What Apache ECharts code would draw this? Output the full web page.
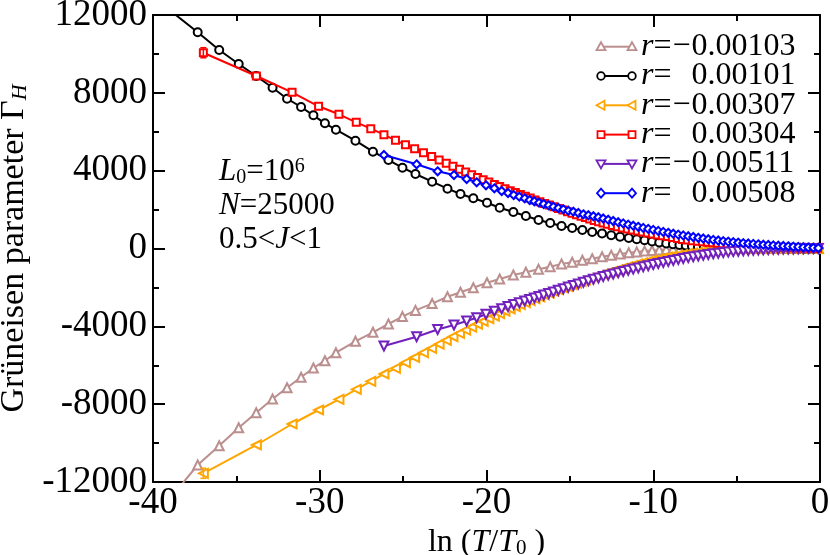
<!DOCTYPE html>
<html><head><meta charset="utf-8">
<script src="https://cdn.jsdelivr.net/npm/echarts@6/dist/echarts.min.js"></script>
<style>html,body{margin:0;padding:0;background:#fff}#c{width:830px;height:555px}</style>
</head><body><div id="c"></div>
<script>
// ---- x grids (ln(T/T0)) ----
const xA = [-37.32,-36.03,-34.86,-33.81,-32.83,-31.96,-31.12,-30.38,-29.69,-29.03,-27.86,-26.81,-25.88,-25.04,-24.26,-23.26,-22.34,-21.56,-20.79,-19.97,-19.21,-18.39,-17.64,-16.88,-16.18,-15.50,-14.86,-14.25,-13.66,-13.07,-12.52,-11.99,-11.47,-10.99,-10.52,-10.07,-9.64,-9.22,-8.82,-8.43,-8.05,-7.68,-7.32,-6.96,-6.61,-6.27,-5.94,-5.61,-5.28,-4.96,-4.65,-4.34,-4.03,-3.73,-3.43,-3.14,-2.85,-2.56,-2.28,-2.00,-1.72,-1.44,-1.17,-0.90,-0.63,-0.36,-0.09];
const yBrown = [-11126,-10134,-9209,-8438,-7734,-7153,-6619,-6141,-5766,-5355,-4769,-4306,-3880,-3500,-3180,-2830,-2480,-2251,-2014,-1757,-1567,-1361,-1223,-1069,-935,-796,-709,-607,-525,-422,-350,-283,-221,-175,-134,-103,-77,-57,-41,-30,-22,-16,-12,-9,-7,-5,-4,-3,-2,-2,-1,-1,-1,0,0,0,0,0,0,0,0,0,0,0,0,0,0];
const yBlack = [11111,10201,9482,8865,8264,7699,7272,6845,6434,6105,5540,4975,4548,4153,3829,3433,3074,2801,2580,2354,2097,1876,1670,1465,1311,1157,1054,951,849,771,679,607,540,478,422,360,309,263,221,180,149,118,93,72,57,45,36,28,22,17,13,10,8,6,4,3,2,1,1,0,0,0,0,0,0,0,0];
const brownLead = [-38.4, -12250];
const blackLead = [-39.0, 12250];

const xB = [-36.98,-33.80,-31.66,-30.07,-28.85,-27.81,-26.94,-26.15,-25.46,-24.86,-24.31,-23.78,-23.29,-22.84,-22.41,-22.01,-21.62,-21.25,-20.89,-20.54,-20.20,-19.86,-19.53,-19.21,-18.89,-18.58,-18.27,-17.97,-17.67,-17.38,-17.09,-16.80,-16.52,-16.24,-15.96,-15.69,-15.41,-15.14,-14.87,-14.60,-14.33,-14.07,-13.81,-13.54,-13.28,-13.01,-12.75,-12.45,-12.15,-11.85,-11.55,-11.25,-10.95,-10.65,-10.35,-10.05,-9.75,-9.45,-9.15,-8.85,-8.55,-8.25,-7.95,-7.65,-7.35,-7.05,-6.75,-6.45,-6.15,-5.85,-5.55,-5.25,-4.95,-4.65,-4.35,-4.05,-3.75,-3.45,-3.15,-2.85,-2.55,-2.25,-1.95,-1.65,-1.35,-1.05,-0.75,-0.45,-0.15];
const yOrange = [-11552,-10098,-9019,-8300,-7750,-7236,-6825,-6449,-6157,-5869,-5602,-5355,-5129,-4918,-4718,-4533,-4358,-4193,-4039,-3890,-3746,-3608,-3474,-3346,-3222,-3104,-2991,-2883,-2780,-2677,-2580,-2482,-2390,-2297,-2205,-2117,-2030,-1943,-1860,-1778,-1696,-1619,-1542,-1465,-1393,-1321,-1249,-1172,-1095,-1018,-946,-874,-807,-740,-673,-612,-555,-498,-447,-396,-349,-308,-267,-231,-195,-164,-134,-108,-87,-67,-51,-36,-21,-10,-8,-6,-5,-4,-3,-3,-2,-2,-1,-1,-1,0,0,0,0];
const yRed = [10062,8865,8027,7308,6897,6485,6157,5848,5560,5334,5129,4923,4728,4548,4378,4224,4075,3931,3787,3654,3531,3412,3294,3181,3073,2970,2873,2775,2683,2590,2498,2405,2318,2230,2143,2056,1973,1891,1814,1737,1660,1588,1516,1444,1372,1305,1244,1182,1120,1059,1002,946,894,843,791,745,699,653,612,560,509,468,432,401,370,344,319,293,267,247,226,206,185,164,149,134,118,103,87,77,67,57,46,36,31,26,21,15,10];

const xC = [-26.15,-24.19,-22.93,-21.95,-21.19,-20.59,-20.03,-19.53,-19.09,-18.71,-18.37,-18.03,-17.71,-17.41,-17.13,-16.85,-16.57,-16.27,-15.99,-15.69,-15.39,-15.09,-14.79,-14.49,-14.19,-13.89,-13.59,-13.29,-13.0,-12.7,-12.4,-12.1,-11.8,-11.5,-11.2,-10.9,-10.6,-10.3,-10.0,-9.7,-9.4,-9.1,-8.8,-8.5,-8.2,-7.9,-7.6,-7.3,-7.0,-6.7,-6.4,-6.1,-5.8,-5.5,-5.2,-4.9,-4.6,-4.3,-4.0,-3.7,-3.4,-3.1,-2.8,-2.5,-2.2,-1.9,-1.6,-1.3,-1.0,-0.7,-0.4,-0.1];
const yPurple = [-5011,-4533,-4163,-3931,-3726,-3556,-3381,-3227,-3094,-2981,-2878,-2785,-2698,-2616,-2539,-2462,-2390,-2307,-2230,-2148,-2066,-1984,-1901,-1819,-1737,-1660,-1583,-1511,-1444,-1377,-1310,-1244,-1182,-1120,-1059,-997,-940,-884,-827,-771,-714,-663,-612,-560,-514,-468,-427,-385,-344,-308,-272,-242,-211,-185,-159,-139,-118,-103,-87,-72,-62,-51,-41,-36,-31,-26,-21,-15,-10,-5,-5,0];
const yBlue = [4805,4327,3968,3778,3572,3402,3248,3094,2955,2853,2750,2662,2580,2493,2426,2354,2287,2220,2148,2082,2015,1943,1892,1825,1758,1707,1656,1604,1542,1480,1413,1352,1290,1228,1172,1115,1059,1007,956,904,853,807,761,714,673,632,591,550,514,478,442,411,380,355,329,303,278,257,236,216,195,180,159,144,128,113,98,82,67,51,41,26];

// error bars on first points [x, y, half-length]
const errBars = [[-36.98, 10062, 260, '#ff0000'], [-36.98, -11552, 260, '#ffa500']];

const legendSign = ['\u2212', '', '\u2212', '', '\u2212', ''];
const legendValue = ['0.00103', '0.00101', '0.00307', '0.00304', '0.00511', '0.00508'];
const xTickMin = -40, xTickMax = 0, xTickStep = 10;
const yTickMin = -12000, yTickMax = 12000, yTickStep = 4000;

const FONT = "'Liberation Serif','Times New Roman',serif";
const pairs = (xs, ys) => xs.map((x, i) => [x, ys[i]]);

const styles = [
  {color:'#bc8f8f', symbol:'emptyTriangle', rot:0, size:9, kind:'up', data:[brownLead].concat(pairs(xA, yBrown))},
  {color:'#000000', symbol:'emptyCircle', rot:0, size:8, kind:'circle', data:[blackLead].concat(pairs(xA, yBlack))},
  {color:'#ffa500', symbol:'emptyTriangle', rot:90, size:9, kind:'left', data:pairs(xB, yOrange)},
  {color:'#ff0000', symbol:'emptyRect', rot:0, size:7, kind:'rect', data:pairs(xB, yRed)},
  {color:'#7221bc', symbol:'emptyTriangle', rot:180, size:9, kind:'down', data:pairs(xC, yPurple)},
  {color:'#0000ff', symbol:'emptyDiamond', rot:0, size:8, kind:'diamond', data:pairs(xC, yBlue)}
];

const series = styles.map((s, i) => ({
  type:'line', name:'r' + i, data:s.data, symbol:s.symbol, symbolSize:s.size, symbolRotate:s.rot,
  showAllSymbol:true, clip:true, animation:false,
  lineStyle:{color:s.color, width:2}, itemStyle:{color:s.color, borderColor:s.color, borderWidth:1.8},
  z: 2 + i
}));
series.push({
  type:'custom', data:errBars.map(e => [e[0], e[1], e[2]]), z:20, animation:false,
  renderItem:(params, api) => {
    const x = api.value(0), y = api.value(1), h = api.value(2);
    const t = api.coord([x, y + h]), b = api.coord([x, y - h]);
    const col = errBars[params.dataIndex][3];
    const st = {stroke:col, lineWidth:1.5};
    return {type:'group', children:[
      {type:'line', shape:{x1:t[0], y1:t[1], x2:b[0], y2:b[1]}, style:st},
      {type:'line', shape:{x1:t[0]-3, y1:t[1], x2:t[0]+3, y2:t[1]}, style:st},
      {type:'line', shape:{x1:b[0]-3, y1:b[1], x2:b[0]+3, y2:b[1]}, style:st}
    ]};
  }
});

function marker(kind, cx, cy, color) {
  const st = {fill:'#fff', stroke:color, lineWidth:1.8};
  if (kind === 'circle') return {type:'circle', shape:{cx, cy, r:3.8}, style:st, z:100};
  if (kind === 'rect') return {type:'rect', shape:{x:cx-3.5, y:cy-3.5, width:7, height:7}, style:st, z:100};
  let pts;
  if (kind === 'up') pts = [[cx,cy-4.5],[cx+4.5,cy+3.5],[cx-4.5,cy+3.5]];
  else if (kind === 'down') pts = [[cx,cy+4.5],[cx+4.5,cy-3.5],[cx-4.5,cy-3.5]];
  else if (kind === 'left') pts = [[cx-4.5,cy],[cx+3.5,cy-4.5],[cx+3.5,cy+4.5]];
  else pts = [[cx,cy-4.5],[cx+4,cy],[cx,cy+4.5],[cx-4,cy]];
  return {type:'polygon', shape:{points:pts}, style:st, z:100};
}

const graphic = [];
styles.forEach((s, i) => {
  const y = 46.7 + i * 29.3;
  graphic.push({type:'line', shape:{x1:601, y1:y, x2:632, y2:y}, style:{stroke:s.color, lineWidth:2}, z:99});
  graphic.push(marker(s.kind, 601, y, s.color));
  graphic.push(marker(s.kind, 632, y, s.color));
  graphic.push({type:'text', x:641, y:y, z:100, style:{
    text:'{i|r}{n|=}{s|' + (legendSign[i] || ' ') + '}{n|' + legendValue[i] + '}',
    verticalAlign:'middle', fill:'#000',
    rich:{i:{fontFamily:FONT, fontStyle:'italic', fontSize:32, fill:'#000'},
          n:{fontFamily:FONT, fontSize:32, fill:'#000'},
          s:{fontFamily:FONT, fontSize:32, width:20, align:'center', fill:'#000'}}
  }});
});
const annRich = {
  i:{fontFamily:FONT, fontStyle:'italic', fontSize:31, fill:'#000'},
  n:{fontFamily:FONT, fontSize:31, fill:'#000'},
  sb:{fontFamily:FONT, fontSize:20, verticalAlign:'bottom', fill:'#000'},
  sp:{fontFamily:FONT, fontSize:20, verticalAlign:'top', fill:'#000'}
};
graphic.push({type:'text', x:219, y:172, z:100, style:{text:'{i|L}{sb|0}{n|=10}{sp|6}', verticalAlign:'middle', rich:annRich}});
graphic.push({type:'text', x:219, y:206, z:100, style:{text:'{i|N}{n|=25000}', verticalAlign:'middle', rich:annRich}});
graphic.push({type:'text', x:219, y:240, z:100, style:{text:'{n|0.5<}{i|J}{n|<1}', verticalAlign:'middle', rich:annRich}});

const axisLine = {show:true, onZero:false, lineStyle:{color:'#000', width:2}};
const axisTick = {show:true, inside:true, length:12, lineStyle:{color:'#000', width:2}};
const minorTick = {show:true, splitNumber:2, length:6, lineStyle:{color:'#000', width:2}};
const plain = v => String(v);

const option = {
  animation:false,
  backgroundColor:'#fff',
  grid:{left:153, right:10, top:15, bottom:73, containLabel:false, outerBoundsMode:'none'},
  xAxis:[
    {type:'value', position:'bottom', min:xTickMin, max:xTickMax, interval:xTickStep,
     axisLine, axisTick, minorTick, splitLine:{show:false},
     axisLabel:{fontFamily:FONT, fontSize:37, color:'#000', margin:3, formatter:plain},
     name:'{n|ln (}{i|T}{n|/}{i|T}{sb|0}{n| )}', nameLocation:'middle', nameGap:39,
     nameTextStyle:{rich:{
       n:{fontFamily:FONT, fontSize:32, color:'#000'},
       i:{fontFamily:FONT, fontSize:32, fontStyle:'italic', color:'#000'},
       sb:{fontFamily:FONT, fontSize:21, color:'#000', verticalAlign:'bottom'}}}},
    {type:'value', position:'top', min:xTickMin, max:xTickMax, interval:xTickStep,
     axisLine, axisTick, minorTick, splitLine:{show:false}, axisLabel:{show:false}}
  ],
  yAxis:[
    {type:'value', position:'left', min:yTickMin, max:yTickMax, interval:yTickStep,
     axisLine, axisTick, minorTick, splitLine:{show:false},
     axisLabel:{fontFamily:FONT, fontSize:37, color:'#000', margin:6, formatter:plain},
     name:'{n|Gr\u00fcneisen parameter \u0393}{sb|H}', nameLocation:'middle', nameGap:109, nameRotate:90,
     nameTextStyle:{rich:{
       n:{fontFamily:FONT, fontSize:34, color:'#000'},
       sb:{fontFamily:FONT, fontSize:22, fontStyle:'italic', color:'#000', verticalAlign:'bottom'}}}},
    {type:'value', position:'right', min:yTickMin, max:yTickMax, interval:yTickStep,
     axisLine, axisTick, minorTick, splitLine:{show:false}, axisLabel:{show:false}}
  ],
  series,
  graphic
};
const chart = echarts.init(document.getElementById('c'), null, {renderer:'canvas'});
chart.setOption(option);
</script></body></html>
